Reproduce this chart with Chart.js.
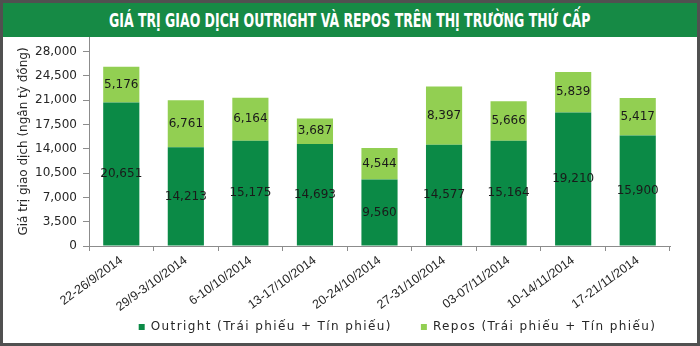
<!DOCTYPE html>
<html>
<head>
<meta charset="utf-8">
<script src="https://cdn.jsdelivr.net/npm/chart.js@4.4.1/dist/chart.umd.min.js"></script>
<style>
    html, body { margin: 0; padding: 0; background: #fff; }
    #frame { position: relative; width: 694px; height: 340px; border: 3px solid #505050; overflow: hidden; background: #fff; }
    #title { height: 34px; background: #168a45; color: #fff; text-align: center; white-space: nowrap; overflow: hidden; padding-left: 0; box-sizing: border-box; }
    #title span { display: inline-block; font: bold 20px "Liberation Sans Narrow", "DejaVu Sans Condensed", sans-serif; line-height: 34px; transform-origin: center; }
    #wrap { position: absolute; left: 0; top: 34px; width: 694px; height: 306px; }
</style>
</head>
<body>
<div id="frame">
    <div id="title"><span id="title-text">GIÁ TRỊ GIAO DỊCH OUTRIGHT VÀ REPOS TRÊN THỊ TRƯỜNG THỨ CẤP</span></div>
    <div id="wrap"><canvas id="chart" width="694" height="306"></canvas></div>
</div>
<script>
// Chart data
const categories = ['22-26/9/2014', '29/9-3/10/2014', '6-10/10/2014', '13-17/10/2014', '20-24/10/2014',
    '27-31/10/2014', '03-07/11/2014', '10-14/11/2014', '17-21/11/2014'];
const outright = [20651, 14213, 15175, 14693, 9560, 14577, 15164, 19210, 15900];
const repos = [5176, 6761, 6164, 3687, 4544, 8397, 5666, 5839, 5417];
const yTicks = [0, 3500, 7000, 10500, 14000, 17500, 21000, 24500, 28000];

const seriesNames = ['Outright (Trái phiếu + Tín phiếu)', 'Repos (Trái phiếu + Tín phiếu)'];
const axisTitle = 'Giá trị giao dịch (ngân tỷ đồng)';

// Squeeze the title to the condensed width of the original
const titleText = document.getElementById('title-text');
titleText.style.transform = `scaleX(${481 / titleText.offsetWidth})`;

const AXIS_COLOR = '#8c8c8c';
const TEXT_COLOR = '#262626';
const LEGEND_SPACING = '1.4px';

// Value labels in the middle of each bar segment
const barLabels = {
    id: 'barLabels',
    afterDatasetsDraw(chart) {
        const ctx = chart.ctx;
        ctx.save();
        ctx.font = '12px "DejaVu Sans"';
        ctx.fillStyle = '#1a1a1a';
        ctx.textAlign = 'center';
        ctx.textBaseline = 'middle';
        chart.data.datasets.forEach((ds, i) => {
            chart.getDatasetMeta(i).data.forEach((bar, j) => {
                ctx.fillText(ds.data[j].toLocaleString('en-US'), bar.x, (bar.y + bar.base) / 2);
            });
        });
        ctx.restore();
    }
};

// Legend: wider letter spacing, and placed right of centre like the original
const legendTweaks = {
    id: 'legendTweaks',
    afterInit(chart) {
        const legend = chart.legend;
        ['fit', 'draw'].forEach(name => {
            const orig = legend[name].bind(legend);
            legend[name] = function (...args) {
                chart.ctx.letterSpacing = LEGEND_SPACING;
                const res = orig(...args);
                chart.ctx.letterSpacing = '0px';
                return res;
            };
        });
    },
    afterLayout(chart) {
        chart.legend.left += 61;
        chart.legend.right += 61;
        // let the rotated x labels run below the axis box without clipping
        chart.scales.x.bottom = chart.height;
    }
};

const ctx = document.getElementById('chart').getContext('2d');
const chart = new Chart(ctx, {
    type: 'bar',
    data: {
        labels: categories,
        datasets: [
            {
                label: seriesNames[0],
                data: outright,
                backgroundColor: '#0b8a46',
                borderWidth: 0,
                categoryPercentage: 1,
                barPercentage: 0.56
            },
            {
                label: seriesNames[1],
                data: repos,
                backgroundColor: '#92cf52',
                borderWidth: 0,
                categoryPercentage: 1,
                barPercentage: 0.56
            }
        ]
    },
    options: {
        responsive: false,
        animation: false,
        layout: { padding: { top: 0, right: 27, bottom: 0, left: 0 } },
        plugins: {
            legend: {
                position: 'bottom',
                labels: {
                    boxWidth: 6,
                    boxHeight: 6,
                    padding: 29,
                    color: TEXT_COLOR,
                    font: { family: 'DejaVu Sans', size: 12 }
                }
            },
            tooltip: { enabled: false }
        },
        scales: {
            x: {
                stacked: true,
                grid: { drawOnChartArea: false, tickLength: 5, color: AXIS_COLOR, offset: true },
                border: { color: AXIS_COLOR },
                ticks: {
                    autoSkip: false,
                    minRotation: 36,
                    maxRotation: 36,
                    padding: 2,
                    color: TEXT_COLOR,
                    font: { family: 'Liberation Sans', size: 12.5 }
                },
                afterFit(scale) {
                    scale.height = 46;
                    scale.paddingLeft = 0;
                    scale.paddingRight = 0;
                }
            },
            y: {
                stacked: true,
                min: 0,
                max: 30100,
                afterBuildTicks(scale) {
                    scale.ticks = yTicks.map(v => ({ value: v }));
                },
                grid: { drawOnChartArea: false, tickLength: 6, color: AXIS_COLOR },
                border: { color: AXIS_COLOR },
                ticks: {
                    padding: 6,
                    color: TEXT_COLOR,
                    font: { family: 'DejaVu Sans', size: 12 },
                    callback: v => v.toLocaleString('en-US')
                },
                title: {
                    display: true,
                    text: axisTitle,
                    color: TEXT_COLOR,
                    font: { family: 'DejaVu Sans', size: 12 },
                    padding: { top: 14, bottom: 0 }
                },
                afterFit(scale) {
                    scale.width = 86;
                    scale.paddingTop = 0;
                    scale.paddingBottom = 0;
                }
            }
        }
    },
    plugins: [barLabels, legendTweaks]
});
</script>
</body>
</html>
